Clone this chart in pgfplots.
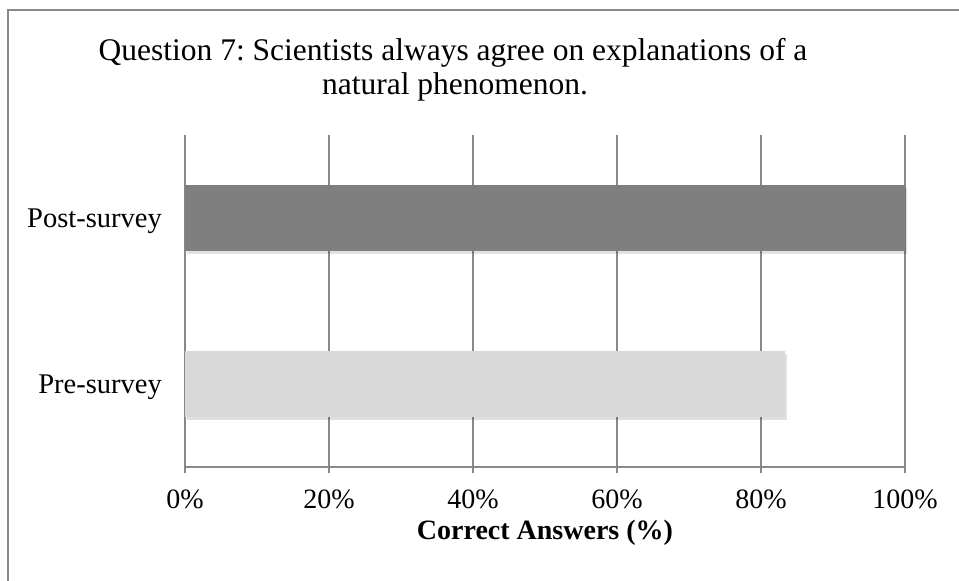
\documentclass[border=0pt]{standalone}
\usepackage{fontspec}
\setmainfont{Liberation Serif}
\usepackage{pgfplots}
\pgfplotsset{compat=1.18}
\definecolor{gridgray}{HTML}{898989}
\definecolor{postc}{HTML}{7F7F7F}
\definecolor{prec}{HTML}{D9D9D9}
\frenchspacing
\begin{document}
\begin{tikzpicture}[x=1pt,y=1pt]
\useasboundingbox (0,0) rectangle (959,581);
\fill[white] (0,0) rectangle (959,581);
\draw[gridgray, line width=1.6pt] (8,-20) -- (8,571) -- (980,571);
\node[anchor=base, font=\fontsize{31.5}{36}\selectfont] at (453,520) {Question 7: Scientists always agree on explanations of a};
\node[anchor=base, font=\fontsize{31.5}{36}\selectfont] at (455,486) {natural phenomenon.};
\begin{axis}[
  at={(185pt,114pt)}, anchor=south west,
  scale only axis, width=720pt, height=332pt,
  xbar, bar width=66pt, bar shift=0pt,
  xmin=0, xmax=100, ymin=0, ymax=2,
  axis lines*=left,
  axis line style={gridgray, line width=1.2pt},
  xtick={0,20,40,60,80,100},
  xticklabels={0\%,20\%,40\%,60\%,80\%,100\%},
  xmajorgrids, major grid style={gridgray, line width=1.2pt},
  tick align=outside, major tick length=6pt,
  tick style={gridgray, line width=1.2pt},
  xticklabel style={anchor=base, inner sep=0pt, yshift=-35pt, font=\fontsize{28}{33}\selectfont},
  ytick={0.5,1.5},
  yticklabels={Pre-survey,Post-survey},
  major y tick style={draw=none},
  yticklabel style={anchor=base east, inner sep=0pt, xshift=-17pt, yshift=-10pt, font=\fontsize{28.5}{33}\selectfont},
  extra y ticks={0,1,2},
  extra y tick labels={},
  extra y tick style={tick style={gridgray, line width=1.2pt, draw=gridgray}, major tick length=8pt},
  xlabel={\textbf{Correct Answers (\%)}},
  xlabel style={at={(axis description cs:0.5,0)}, anchor=base, inner sep=0pt, yshift=-73pt, font=\fontsize{28}{33}\selectfont},
  clip=false,
]
\addplot[draw=none, fill=black, fill opacity=0.12, xshift=2pt, yshift=-3pt, forget plot] coordinates {(83.3,0.5) (100,1.5)};
\addplot[draw=none, fill=prec] coordinates {(83.3,0.5)};
\addplot[draw=none, fill=postc] coordinates {(100,1.5)};
\end{axis}
\end{tikzpicture}
\end{document}
